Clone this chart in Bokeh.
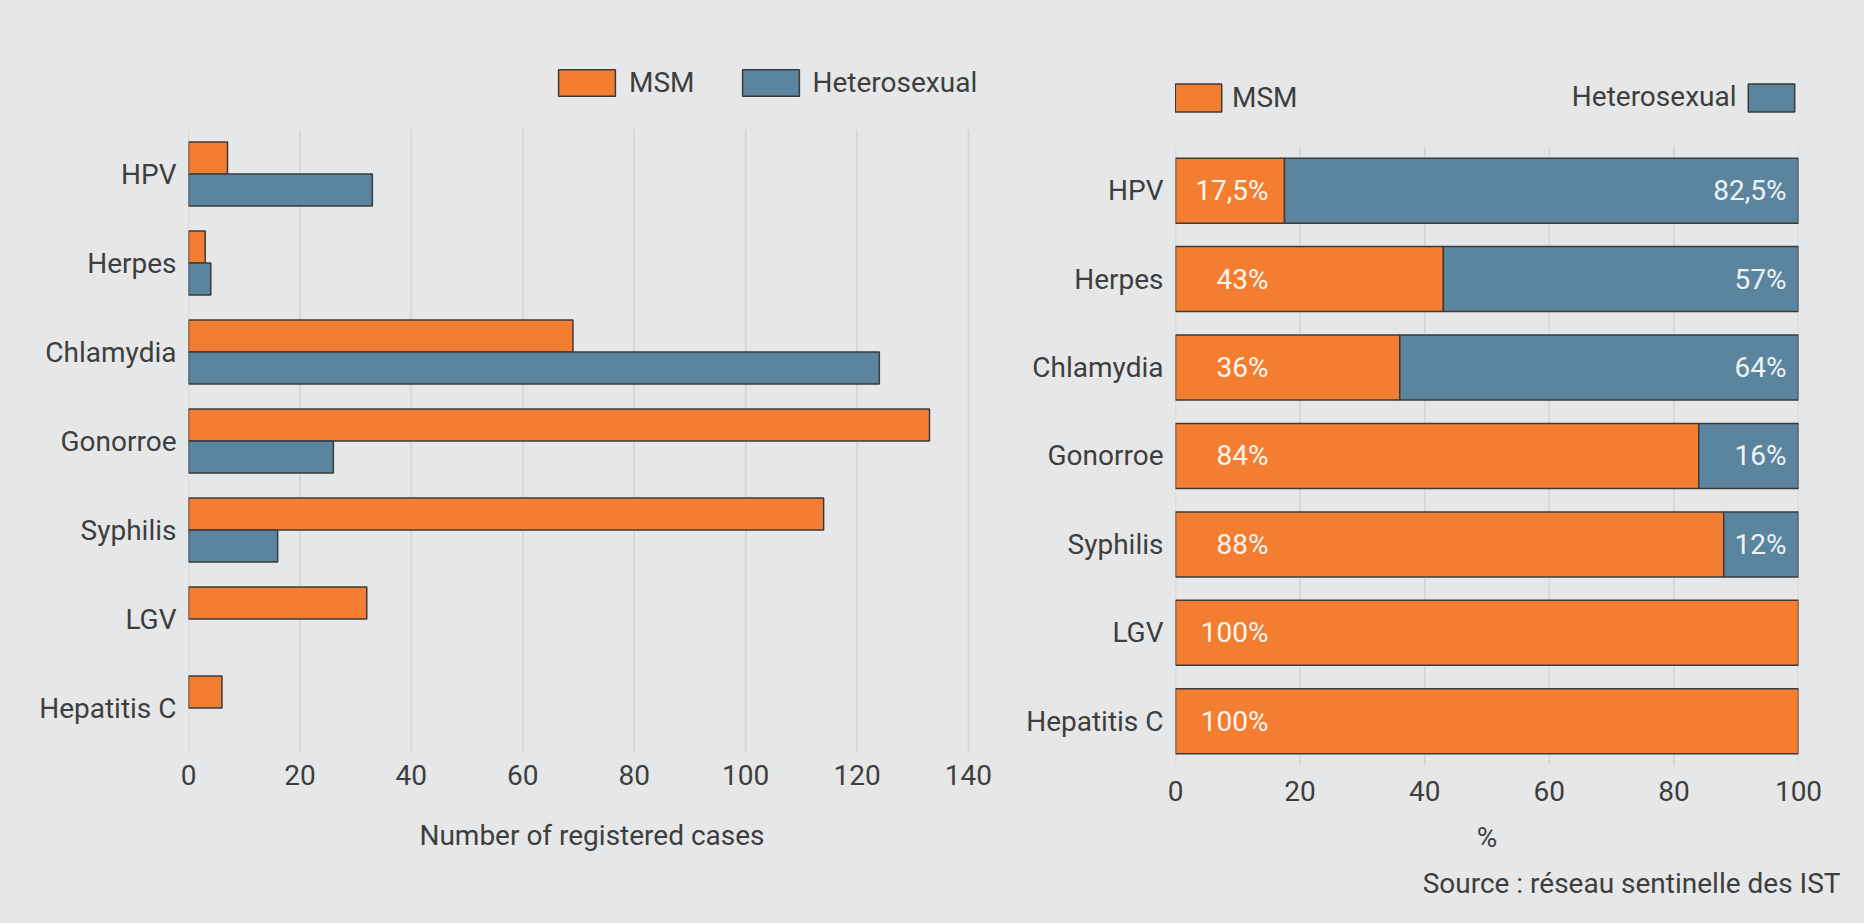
from bokeh.plotting import figure
from bokeh.models import (Range1d, Legend, LegendItem, Title, Label,
                          ColumnDataSource, FixedTicker)
from bokeh.layouts import row
from bokeh.embed import file_html
from bokeh.resources import INLINE
from bokeh.core.properties import value

# ---------------- data ----------------
categories = ["HPV", "Herpes", "Chlamydia", "Gonorroe", "Syphilis", "LGV", "Hepatitis C"]
msm_cases = [7, 3, 69, 133, 114, 32, 6]
het_cases = [33, 4, 124, 26, 16, 0, 0]
msm_pct = [17.5, 43, 36, 84, 88, 100, 100]
het_pct = [82.5, 57, 64, 16, 12, 0, 0]
cases_ticks = [0, 20, 40, 60, 80, 100, 120, 140]
pct_ticks = [0, 20, 40, 60, 80, 100]
series_names = ["MSM", "Heterosexual"]
source_text = "Source : réseau sentinelle des IST"

# ---------------- style ----------------
FONT = "Roboto"
BG = "#e6e7e8"
ORANGE = "#f37e31"
BLUE = "#5b849f"
EDGE = "#3b3b3b"
TEXT = "#3e3e3e"
GRID = "#d2d3d5"
FS = "28px"

n = len(categories)
# category i sits in slot n-1-i (centre +0.5) so the first category is on top
ypos = [n - 1 - i + 0.5 for i in range(n)]
cat_labels = {p: c for p, c in zip(ypos, categories)}


def fmt_pct(v):
    return ("%g" % v).replace(".", ",") + "%"


def style_axes(p, ticks):
    p.xaxis.ticker = FixedTicker(ticks=ticks)
    p.xgrid.grid_line_color = None
    p.ygrid.grid_line_color = None
    # vertical grid lines only over the category area (legend sits above it)
    p.segment(x0=ticks, y0=0, x1=ticks, y1=n, line_color=GRID, line_width=1.5,
              level="underlay")
    p.yaxis.ticker = FixedTicker(ticks=ypos)
    p.yaxis.major_label_overrides = cat_labels
    for ax in (p.xaxis[0], p.yaxis[0]):
        ax.axis_line_color = None
        ax.major_tick_line_color = None
        ax.minor_tick_line_color = None
        ax.major_label_text_font = FONT
        ax.major_label_text_font_size = FS
        ax.major_label_text_color = TEXT
        ax.axis_label_text_font = FONT
        ax.axis_label_text_font_size = FS
        ax.axis_label_text_color = TEXT
        ax.axis_label_text_font_style = "normal"
    p.yaxis.major_label_standoff = 6


def legend_style(**kw):
    base = dict(padding=0, margin=0, border_line_color=None, background_fill_alpha=0,
                label_text_font=FONT, label_text_font_size=FS, label_text_color=TEXT)
    base.update(kw)
    return base


common = dict(height=923, output_backend="svg", toolbar_location=None, title=None,
              frame_align=False, min_border_top=40, background_fill_color=BG,
              border_fill_color=BG, outline_line_color=None)

# ---------------- left: counts ----------------
# frame runs a little past the last grid line so the legend is not cut
p1 = figure(width=1000, x_range=Range1d(0, 144.85), y_range=Range1d(0, 8.0),
            min_border_left=188, min_border_right=5, min_border_bottom=171, **common)
style_axes(p1, cases_ticks)
p1.xaxis.axis_label = "Number of registered cases"
p1.xaxis.major_label_standoff = 6
p1.xaxis.axis_label_standoff = 31

m_keep = [i for i, v in enumerate(msm_cases) if v > 0]
h_keep = [i for i, v in enumerate(het_cases) if v > 0]
src_m = ColumnDataSource(dict(y=[ypos[i] + 0.18 for i in m_keep],
                              val=[msm_cases[i] for i in m_keep]))
src_h = ColumnDataSource(dict(y=[ypos[i] - 0.18 for i in h_keep],
                              val=[het_cases[i] for i in h_keep]))
r_m = p1.hbar(y="y", left=0, right="val", height=0.36, fill_color=ORANGE,
              line_color=EDGE, line_width=1.5, source=src_m)
r_h = p1.hbar(y="y", left=0, right="val", height=0.36, fill_color=BLUE,
              line_color=EDGE, line_width=1.5, source=src_h)

leg1 = Legend(items=[LegendItem(label=series_names[0], renderers=[r_m]),
                     LegendItem(label=series_names[1], renderers=[r_h])],
              location=(363, 653), orientation="horizontal", glyph_width=71,
              glyph_height=33, label_standoff=7, spacing=40, **legend_style())
p1.add_layout(leg1)

# ---------------- right: percentages ----------------
p2 = figure(width=864, x_range=Range1d(0, 100), y_range=Range1d(0, 8.198),
            min_border_left=175, min_border_right=66, min_border_bottom=158, **common)
style_axes(p2, pct_ticks)
p2.xaxis.axis_label = "%"
p2.xaxis.major_label_standoff = 9
p2.xaxis.axis_label_standoff = 17

src_pm = ColumnDataSource(dict(y=ypos, left=[0] * n, right=msm_pct,
                               lbl=[fmt_pct(v) for v in msm_pct]))
src_ph = ColumnDataSource(dict(y=[ypos[i] for i in h_keep],
                               left=[msm_pct[i] for i in h_keep],
                               right=[msm_pct[i] + het_pct[i] for i in h_keep],
                               lbl=[fmt_pct(het_pct[i]) for i in h_keep]))
rp_m = p2.hbar(y="y", left="left", right="right", height=0.735, fill_color=ORANGE,
               line_color=EDGE, line_width=1.5, source=src_pm)
rp_h = p2.hbar(y="y", left="left", right="right", height=0.735, fill_color=BLUE,
               line_color=EDGE, line_width=1.5, source=src_ph)
p2.text(x="left", y="y", text="lbl", x_offset=93, text_align="right",
        text_baseline="middle", text_color="#fff6ef", text_font=value(FONT),
        text_font_size=FS, source=src_pm)
p2.text(x="right", y="y", text="lbl", x_offset=-12, text_align="right",
        text_baseline="middle", text_color="#eef3f6", text_font=value(FONT),
        text_font_size=FS, source=src_ph)

leg2a = Legend(items=[LegendItem(label=series_names[0], renderers=[rp_m])],
               location=(-6, 650), glyph_width=58, glyph_height=35, label_standoff=5,
               **legend_style())
leg2b = Legend(items=[LegendItem(label=" ", renderers=[rp_h])],
               location=(567, 650), glyph_width=58, glyph_height=35, label_standoff=0,
               label_width=0, **legend_style())
p2.add_layout(leg2a)
p2.add_layout(leg2b)
p2.add_layout(Label(x=100, y=n, x_offset=-62, y_offset=50, text=series_names[1],
                    text_align="right", text_baseline="middle", text_font=FONT,
                    text_font_size=FS, text_color=TEXT))
p2.add_layout(Title(text=source_text, align="right", offset=-42, standoff=16,
                    text_font=FONT, text_font_size=FS, text_color=TEXT,
                    text_font_style="normal"), "below")

layout = row(p1, p2, spacing=0, styles={"background-color": BG})
open("out.html", "w").write(file_html(layout, INLINE))
